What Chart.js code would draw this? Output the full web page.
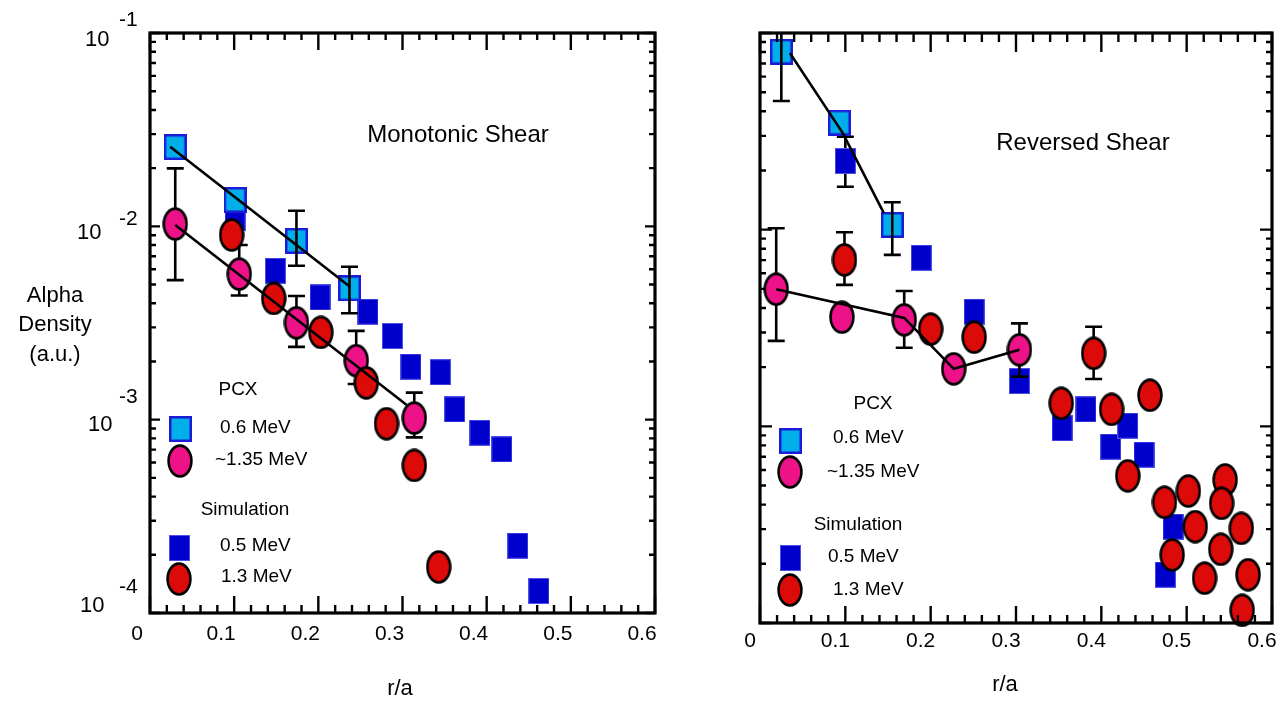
<!DOCTYPE html>
<html>
<head>
<meta charset="utf-8">
<script src="https://cdn.jsdelivr.net/npm/chart.js@4.4.1/dist/chart.umd.min.js"></script>
<style>
  html, body { margin: 0; padding: 0; background: #fff; }
  #wrap { position: relative; width: 1285px; height: 704px; overflow: hidden; }
  canvas { position: absolute; top: 0; }
  #left { left: 0; }
  #right { left: 700px; }
</style>
</head>
<body>
<div id="wrap">
  <canvas id="left" width="700" height="704"></canvas>
  <canvas id="right" width="585" height="704"></canvas>
</div>
<script>
// --- DATOS: cizalla monotona (panel izquierdo) ---
const monoCyanX = [0.030, 0.101, 0.174, 0.237];
const monoCyanY = [0.0257, 0.0137, 0.00842, 0.00478];
const monoCyanErrHi = [null, null, 0.01205, 0.00618];
const monoCyanErrLo = [null, null, 0.00625, 0.00355];

const monoPinkX = [0.030, 0.106, 0.174, 0.245, 0.314];
const monoPinkY = [0.01028, 0.00566, 0.00317, 0.00202, 0.00102];
const monoPinkErrHi = [0.01995, 0.0080, 0.00436, 0.00288, 0.00138];
const monoPinkErrLo = [0.00527, 0.00439, 0.00238, 0.00153, 0.00081];

const monoBlueX = [0.101, 0.149, 0.202, 0.259, 0.288, 0.310, 0.345, 0.362, 0.392, 0.418, 0.437, 0.462];
const monoBlueY = [0.01104, 0.00589, 0.00429, 0.00362, 0.00271, 0.00188, 0.00176, 0.00113, 0.000856, 0.000702, 0.000223, 0.000130];

const monoRedX = [0.097, 0.147, 0.203, 0.257, 0.281, 0.314, 0.343];
const monoRedY = [0.00902, 0.00424, 0.00283, 0.00155, 0.000953, 0.000580, 0.000173];

const monoFitCyanX = [0.024, 0.238];
const monoFitCyanY = [0.0258, 0.00485];
const monoFitPinkX = [0.030, 0.305];
const monoFitPinkY = [0.01017, 0.00119];

// --- DATOS: cizalla invertida (panel derecho) ---
const revCyanX = [0.025, 0.093, 0.155];
const revCyanY = [0.0803, 0.0350, 0.01057];
const revCyanErrHi = [0.143, null, 0.01378];
const revCyanErrLo = [0.0451, null, 0.00744];

const revPinkX = [0.019, 0.096, 0.169, 0.227, 0.304];
const revPinkY = [0.00498, 0.00359, 0.00348, 0.00196, 0.00245];
const revPinkErrHi = [0.01017, null, 0.00488, null, 0.00334];
const revPinkErrLo = [0.00272, null, 0.00251, null, 0.00179];

const revBlueX = [0.100, 0.189, 0.251, 0.304, 0.354, 0.382, 0.411, 0.431, 0.450, 0.484, 0.475];
const revBlueY = [0.02235, 0.00720, 0.00383, 0.00170, 0.000978, 0.00122, 0.000788, 0.001008, 0.000718, 0.000309, 0.000176];
const revBlueErrHi = [0.0297, null, null, null, null, null, null, null, null, null, null];
const revBlueErrLo = [0.01654, null, null, null, null, null, null, null, null, null, null];

const revRedX = [0.099, 0.200, 0.251, 0.391, 0.353, 0.412, 0.457, 0.431, 0.474, 0.502, 0.545, 0.541, 0.510, 0.564, 0.483, 0.540, 0.521, 0.572, 0.565];
const revRedY = [0.00702, 0.00312, 0.00284, 0.00235, 0.00131, 0.00122, 0.00144, 0.000560, 0.000411, 0.000469, 0.000534, 0.000406, 0.000309, 0.000303, 0.000222, 0.000237, 0.000169, 0.000176, 0.000116];
const revRedErrHi = [0.0097, null, null, 0.00321, null, null, null, null, null, null, null, null, null, null, null, null, null, null, null];
const revRedErrLo = [0.00524, null, null, 0.00174, null, null, null, null, null, null, null, null, null, null, null, null, null, null, null];

const revFitCyanX = [0.035, 0.097, 0.145];
const revFitCyanY = [0.0791, 0.0310, 0.01216];
const revFitPinkX = [0.019, 0.169, 0.227, 0.304];
const revFitPinkY = [0.00498, 0.00356, 0.00196, 0.00245];

// ticks
const xTickVals = [0, 0.1, 0.2, 0.3, 0.4, 0.5, 0.6];
const xTickText = ['0', '0.1', '0.2', '0.3', '0.4', '0.5', '0.6'];
const yDecades = [1e-1, 1e-2, 1e-3, 1e-4];
const yExpText = ['-1', '-2', '-3', '-4'];

const FONT = '"Liberation Sans", Arial, Helvetica, sans-serif';

// --- MARCADORES ---
function makeMarker(w, h, draw) {
    const c = document.createElement('canvas');
    c.width = w; c.height = h;
    draw(c.getContext('2d'), w, h);
    return c;
}
const cyanBox = makeMarker(23, 26, (g, w, h) => {
    g.fillStyle = '#1c1cd8'; g.fillRect(0, 0, w, h);
    g.fillStyle = '#00aeea'; g.fillRect(2.5, 2.5, w - 5, h - 5);
});
const blueBox = makeMarker(21, 26, (g, w, h) => {
    g.fillStyle = '#0000cc'; g.fillRect(0, 0, w, h);
    g.strokeStyle = '#5050e8'; g.lineWidth = 1; g.strokeRect(0.5, 0.5, w - 1, h - 1);
});
function ellipse(fill) {
    return makeMarker(26, 34, (g, w, h) => {
        g.beginPath();
        g.ellipse(w / 2, h / 2, w / 2 - 1.6, h / 2 - 1.6, 0, 0, Math.PI * 2);
        g.fillStyle = fill; g.fill();
        g.lineWidth = 2.6; g.strokeStyle = '#000'; g.stroke();
    });
}
const pinkOval = ellipse('#ee1288');
const redOval = ellipse('#dd0a0a');

function pts(xs, ys) { return xs.map((x, i) => ({ x: x, y: ys[i] })); }

function markerSet(xs, ys, img, order, hi, lo, errOnTop) {
    return {
        data: pts(xs, ys), pointStyle: img, pointRadius: 12, pointHoverRadius: 12,
        showLine: false, order: order, clip: false,
        errHi: hi || null, errLo: lo || null, errOnTop: !!errOnTop
    };
}
function lineSet(xs, ys) {
    return {
        data: pts(xs, ys), showLine: true, pointRadius: 0, borderColor: '#000',
        borderWidth: 2.6, fill: false, order: 0, clip: false
    };
}

// --- BARRAS DE ERROR ---
function drawErr(chart, meta, ds) {
    if (!ds.errHi) return;
    const ctx = chart.ctx, a = chart.chartArea, y = chart.scales.y;
    ctx.save();
    ctx.strokeStyle = '#000'; ctx.lineWidth = 2.6;
    meta.data.forEach((p, i) => {
        if (ds.errHi[i] == null) return;
        let top = y.getPixelForValue(ds.errHi[i]);
        const bot = y.getPixelForValue(ds.errLo[i]);
        const capTop = top >= a.top;
        if (!capTop) top = a.top;
        ctx.beginPath();
        ctx.moveTo(p.x, top); ctx.lineTo(p.x, bot);
        if (capTop) { ctx.moveTo(p.x - 8.5, top); ctx.lineTo(p.x + 8.5, top); }
        ctx.moveTo(p.x - 8.5, bot); ctx.lineTo(p.x + 8.5, bot);
        ctx.stroke();
    });
    ctx.restore();
}
const errorBars = {
    id: 'errorBars',
    beforeDatasetDraw(chart, args) {
        const ds = chart.data.datasets[args.index];
        if (!ds.errOnTop) drawErr(chart, args.meta, ds);
    },
    afterDatasetDraw(chart, args) {
        const ds = chart.data.datasets[args.index];
        if (ds.errOnTop) drawErr(chart, args.meta, ds);
    }
};

// --- MARCO CON TICKS HACIA DENTRO ---
const frameTicks = {
    id: 'frameTicks',
    afterDatasetsDraw(chart, args, o) {
        const ctx = chart.ctx, a = chart.chartArea, x = chart.scales.x, y = chart.scales.y;
        ctx.save();
        ctx.strokeStyle = '#000'; ctx.lineWidth = 2.4;
        ctx.beginPath();
        for (let i = 0; i <= 30; i++) {
            const px = x.getPixelForValue(i * 0.02);
            const major = i % 5 === 0;
            ctx.moveTo(px, a.bottom); ctx.lineTo(px, a.bottom - (major ? o.xMajB : o.xMinB));
            ctx.moveTo(px, a.top); ctx.lineTo(px, a.top + (major ? o.xMajT : o.xMinT));
        }
        for (let e = -4; e <= -1; e++) {
            for (let k = 1; k <= 9; k++) {
                const v = k * Math.pow(10, e);
                if (v > 0.1 + 1e-9) continue;
                const py = y.getPixelForValue(v);
                const major = k === 1;
                ctx.moveTo(a.left, py); ctx.lineTo(a.left + (major ? o.yMajL : o.yMinL), py);
                ctx.moveTo(a.right, py); ctx.lineTo(a.right - (major ? o.yMajR : o.yMinR), py);
            }
        }
        ctx.stroke();
        ctx.lineWidth = 3.2;
        ctx.strokeRect(a.left, a.top, a.right - a.left, a.bottom - a.top);
        ctx.restore();
    }
};

// --- TEXTOS: etiquetas de ejes, titulo, leyenda ---
const annotations = {
    id: 'annotations',
    afterDraw(chart, args, o) {
        const ctx = chart.ctx, a = chart.chartArea, x = chart.scales.x, y = chart.scales.y;
        ctx.save();
        ctx.fillStyle = '#000';
        ctx.textBaseline = 'middle';
        // x tick labels
        ctx.font = '21px ' + FONT;
        ctx.textAlign = 'center';
        xTickVals.forEach((v, i) => {
            ctx.fillText(xTickText[i], x.getPixelForValue(v) + o.xLabDx, a.bottom + o.xLabDy);
        });
        // y tick labels (10 con exponente)
        if (o.yLabels) {
            yDecades.forEach((v, i) => {
                const py = y.getPixelForValue(v);
                const off = o.yLabels[i];
                ctx.font = '22px ' + FONT;
                ctx.textAlign = 'left';
                ctx.fillText('10', off.x, py + off.ten);
                ctx.font = '21px ' + FONT;
                ctx.fillText(yExpText[i], 119, py + off.exp);
            });
        }
        // textos libres
        o.texts.forEach(t => {
            ctx.font = t.size + 'px ' + FONT;
            ctx.textAlign = t.align || 'center';
            ctx.fillText(t.t, t.x, t.y);
        });
        // simbolos de leyenda
        o.symbols.forEach(s => {
            ctx.drawImage(s.img, Math.round(s.x - s.img.width / 2), Math.round(s.y - s.img.height / 2));
        });
        ctx.restore();
    }
};

function makeChart(id, datasets, pad, frame, ann) {
    return new Chart(document.getElementById(id).getContext('2d'), {
        type: 'scatter',
        data: { datasets: datasets },
        options: {
            responsive: false,
            animation: false,
            events: [],
            layout: { padding: pad },
            plugins: { legend: { display: false }, tooltip: { enabled: false },
                       frameTicks: frame, annotations: ann },
            scales: {
                x: { type: 'linear', min: 0, max: 0.6, display: false },
                y: { type: 'logarithmic', min: 1e-4, max: 1e-1, display: false }
            }
        },
        plugins: [errorBars, frameTicks, annotations]
    });
}

makeChart('left', [
    lineSet(monoFitCyanX, monoFitCyanY),
    lineSet(monoFitPinkX, monoFitPinkY),
    markerSet(monoCyanX, monoCyanY, cyanBox, 1, monoCyanErrHi, monoCyanErrLo, true),
    markerSet(monoRedX, monoRedY, redOval, 2),
    markerSet(monoPinkX, monoPinkY, pinkOval, 3, monoPinkErrHi, monoPinkErrLo),
    markerSet(monoBlueX, monoBlueY, blueBox, 4)
], { left: 150, top: 33, right: 45, bottom: 91 },
{ xMajB: 17, xMinB: 8, xMajT: 17, xMinT: 7, yMajL: 10, yMinL: 6, yMajR: 10, yMinR: 6 },
{
    xLabDx: -13, xLabDy: 21,
    yLabels: [
        { x: 85, ten: 7, exp: -13 },
        { x: 77, ten: 7, exp: -7 },
        { x: 88, ten: 5, exp: -22 },
        { x: 80, ten: -7, exp: -26 }
    ],
    texts: [
        { t: 'Monotonic Shear', x: 458, y: 135, size: 24 },
        { t: 'Alpha', x: 55, y: 296, size: 22 },
        { t: 'Density', x: 55, y: 325, size: 22 },
        { t: '(a.u.)', x: 55, y: 355, size: 22 },
        { t: 'r/a', x: 400, y: 689, size: 22 },
        { t: 'PCX', x: 238, y: 390, size: 19 },
        { t: '0.6 MeV', x: 220, y: 428, size: 19, align: 'left' },
        { t: '~1.35 MeV', x: 215, y: 460, size: 19, align: 'left' },
        { t: 'Simulation', x: 245, y: 510, size: 19 },
        { t: '0.5 MeV', x: 220, y: 546, size: 19, align: 'left' },
        { t: '1.3 MeV', x: 221, y: 577, size: 19, align: 'left' }
    ],
    symbols: [
        { img: cyanBox, x: 180, y: 429 },
        { img: pinkOval, x: 180, y: 461 },
        { img: blueBox, x: 179, y: 548 },
        { img: redOval, x: 179, y: 579 }
    ]
});

makeChart('right', [
    lineSet(revFitCyanX, revFitCyanY),
    lineSet(revFitPinkX, revFitPinkY),
    markerSet(revCyanX, revCyanY, cyanBox, 1, revCyanErrHi, revCyanErrLo, true),
    markerSet(revRedX, revRedY, redOval, 2, revRedErrHi, revRedErrLo),
    markerSet(revPinkX, revPinkY, pinkOval, 3, revPinkErrHi, revPinkErrLo),
    markerSet(revBlueX, revBlueY, blueBox, 4, revBlueErrHi, revBlueErrLo)
], { left: 60, top: 33, right: 9, bottom: 81 },
{ xMajB: 17, xMinB: 8, xMajT: 19, xMinT: 9, yMajL: 12, yMinL: 6, yMajR: 12, yMinR: 6 },
{
    xLabDx: -10, xLabDy: 18, yLabels: null,
    texts: [
        { t: 'Reversed Shear', x: 383, y: 143, size: 24 },
        { t: 'r/a', x: 305, y: 685, size: 22 },
        { t: 'PCX', x: 173, y: 404, size: 19 },
        { t: '0.6 MeV', x: 133, y: 438, size: 19, align: 'left' },
        { t: '~1.35 MeV', x: 127, y: 472, size: 19, align: 'left' },
        { t: 'Simulation', x: 158, y: 525, size: 19 },
        { t: '0.5 MeV', x: 128, y: 557, size: 19, align: 'left' },
        { t: '1.3 MeV', x: 133, y: 590, size: 19, align: 'left' }
    ],
    symbols: [
        { img: cyanBox, x: 90, y: 441 },
        { img: pinkOval, x: 90, y: 472 },
        { img: blueBox, x: 90, y: 558 },
        { img: redOval, x: 90, y: 590 }
    ]
});
</script>
</body>
</html>
